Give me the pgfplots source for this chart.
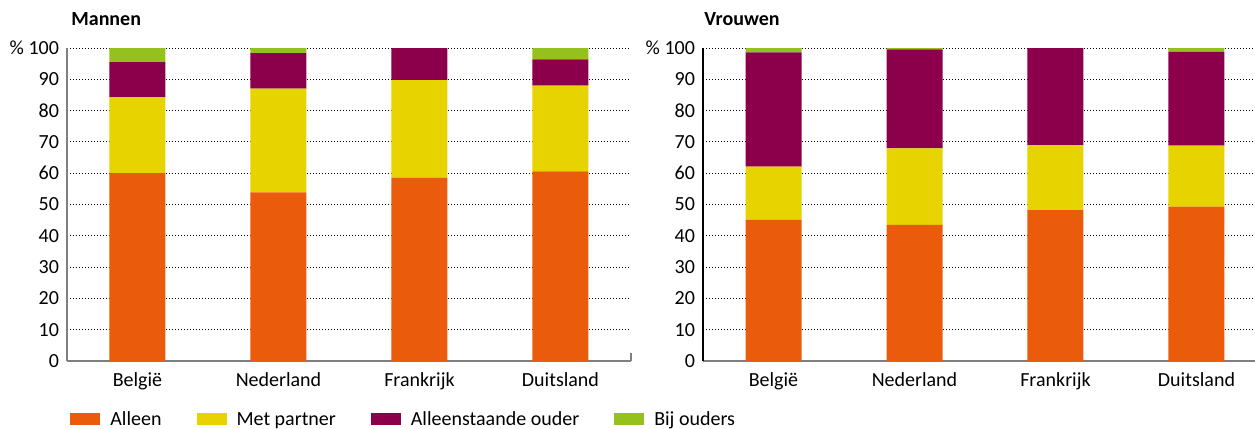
\documentclass[border=0pt]{standalone}
\usepackage{fontspec}
\setmainfont{Carlito}
\usepackage{pgfplots}
\pgfplotsset{compat=1.18}
\definecolor{cOr}{HTML}{EA5B0C}
\definecolor{cYe}{HTML}{E6D300}
\definecolor{cPu}{HTML}{8C004B}
\definecolor{cGr}{HTML}{95C11F}
\definecolor{axgray}{HTML}{808080}
\begin{document}
\begin{tikzpicture}
\pgfplotsset{
  mystyle/.style={
    ybar stacked, bar width=28pt,
    scale only axis, width=282pt, height=156.5pt,
    xmin=-0.5, xmax=3.5, ymin=0, ymax=100,
    xtick={0,1,2,3}, xticklabels={België,Nederland,Frankrijk,Duitsland},
    ytick={0,10,...,100}, yticklabels={0,10,20,30,40,50,60,70,80,90,\% 100},
    major tick length=0pt,
    axis x line*=bottom, axis y line*=left,
    x axis line style={draw=axgray, line width=0.7pt},
    ymajorgrids, grid style={black, line width=0.5pt, dash pattern=on 0.5pt off 1pt},
    xticklabel style={yshift=-2.5pt},
    yticklabel style={xshift=-0.5pt},
    legend image code/.code={\fill[##1] (0pt,0pt) rectangle (15pt,6pt);},
    every axis plot/.append style={draw=none},
  }
}
\begin{axis}[mystyle,
  at={(0pt,0pt)}, anchor=south west,
  y axis line style={draw=axgray, line width=0.7pt},
  extra x ticks={3.5}, extra x tick labels={},
  extra x tick style={major tick length=4pt, tick align=inside, tick style={draw=axgray, line width=0.7pt}},
  legend columns=4, legend cell align=left,
  legend style={draw=none, fill=none, inner sep=0pt,
    at={(axis description cs:0,0)}, anchor=north west, xshift=1.5pt, yshift=-25pt,
    nodes={inner sep=0pt, anchor=base west},
    /tikz/every odd column/.append style={column sep=5pt},
    /tikz/every even column/.append style={column sep=17.5pt}},
]
\addplot[fill=cOr] coordinates {(0,60.0) (1,53.9) (2,58.6) (3,60.6)};
\addplot[fill=cYe] coordinates {(0,24.2) (1,33.1) (2,31.1) (3,27.4)};
\addplot[fill=cPu] coordinates {(0,11.3) (1,11.4) (2,10.3) (3,8.4)};
\addplot[fill=cGr] coordinates {(0,4.5) (1,1.6) (2,0.0) (3,3.6)};
\legend{Alleen, Met partner, Alleenstaande ouder, Bij ouders}
\end{axis}
\begin{axis}[mystyle,
  at={(318pt,0pt)}, anchor=south west,
  y axis line style={draw=black, line width=0.7pt},
]
\addplot[fill=cOr] coordinates {(0,45.2) (1,43.5) (2,48.2) (3,49.3)};
\addplot[fill=cYe] coordinates {(0,16.9) (1,24.4) (2,20.8) (3,19.5)};
\addplot[fill=cPu] coordinates {(0,36.5) (1,31.7) (2,31.0) (3,30.0)};
\addplot[fill=cGr] coordinates {(0,1.4) (1,0.4) (2,0.0) (3,1.2)};
\end{axis}
\node[anchor=base west, inner sep=0pt, font=\bfseries] at (2pt,167.5pt) {Mannen};
\node[anchor=base west, inner sep=0pt, font=\bfseries] at (318.5pt,167.5pt) {Vrouwen};
\pgfresetboundingbox
\path[use as bounding box] (-33.5pt,-34pt) rectangle (594pt,180.5pt);
\end{tikzpicture}
\end{document}
